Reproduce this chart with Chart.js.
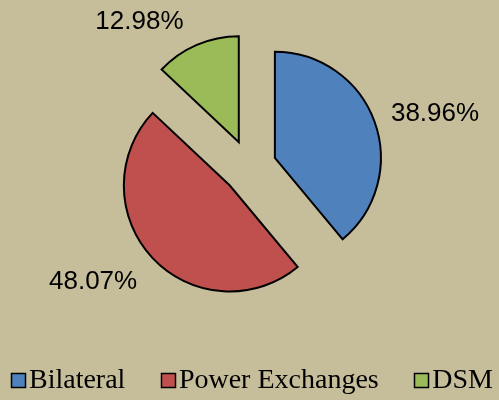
<!DOCTYPE html>
<html>
<head>
<meta charset="utf-8">
<script src="https://cdn.jsdelivr.net/npm/chart.js@4/dist/chart.umd.min.js"></script>
<style>
  html, body { margin: 0; padding: 0; background: #C6BE9B; }
  #wrap { width: 499px; height: 400px; position: relative; }
</style>
</head>
<body>
<div id="wrap"><canvas id="pie"></canvas></div>
<script>
// data
const categories = ['Bilateral', 'Power Exchanges', 'DSM'];
const shares = [38.96, 48.07, 12.98];
const shareLabels = ['38.96%', '48.07%', '12.98%'];

// styles
const sliceColors = ['#4F81BD', '#C0504D', '#9BBB59'];
const explode = 27;                        // px each slice is pulled out
const labelAngleShift = [4.6, 8.2, -16.2]; // degrees, nudge off the mid angle
const labelDistance = [166, 167, 156];     // px from the slice apex

// pull every slice out along its mid angle without growing its radius
// (chart.js "offset" also enlarges narrow slices)
const explodeSlices = {
  id: 'explodeSlices',
  beforeDatasetDraw(chart, args) {
    args.meta.data.forEach(arc => {
      if (arc._exploded) return;
      const draw = arc.draw.bind(arc);
      arc.draw = function (ctx) {
        const mid = (this.startAngle + this.endAngle) / 2;
        ctx.save();
        ctx.translate(Math.cos(mid) * explode, Math.sin(mid) * explode);
        draw(ctx);
        ctx.restore();
      };
      arc._exploded = true;
    });
  }
};

// percent labels outside each slice
const sliceLabels = {
  id: 'sliceLabels',
  afterDatasetsDraw(chart) {
    const ctx = chart.ctx;
    const meta = chart.getDatasetMeta(0);
    ctx.save();
    ctx.font = '26px "Liberation Sans", Arial, sans-serif';
    ctx.fillStyle = '#000';
    ctx.textAlign = 'center';
    ctx.textBaseline = 'middle';
    meta.data.forEach((arc, i) => {
      const p = arc.getProps(['x', 'y', 'startAngle', 'endAngle'], true);
      const mid = (p.startAngle + p.endAngle) / 2;
      const ax = p.x + Math.cos(mid) * explode;
      const ay = p.y + Math.sin(mid) * explode;
      const a = mid + labelAngleShift[i] * Math.PI / 180;
      ctx.fillText(shareLabels[i], ax + Math.cos(a) * labelDistance[i], ay + Math.sin(a) * labelDistance[i]);
    });
    ctx.restore();
  }
};

// legend row at the bottom, drawn on the canvas
const bottomLegend = {
  id: 'bottomLegend',
  afterDraw(chart) {
    const ctx = chart.ctx;
    const box = 14, gap = 4, itemGap = 35.5, cy = 380;
    ctx.save();
    ctx.font = '28px "Liberation Serif", "Times New Roman", serif';
    ctx.textBaseline = 'middle';
    const widths = categories.map(t => ctx.measureText(t).width);
    let total = 0;
    widths.forEach((w, i) => { total += box + gap + w + (i ? itemGap : 0); });
    let x = Math.round(252 - total / 2);
    categories.forEach((t, i) => {
      const bx = Math.round(x) + 0.5;
      ctx.fillStyle = sliceColors[i];
      ctx.fillRect(bx, cy - box / 2 + 0.5, box, box);
      ctx.lineWidth = 1.5;
      ctx.strokeStyle = '#000';
      ctx.strokeRect(bx, cy - box / 2 + 0.5, box, box);
      ctx.fillStyle = '#000';
      ctx.fillText(t, x + box + gap, cy + 1);
      x += box + gap + widths[i] + itemGap;
    });
    ctx.restore();
  }
};

new Chart(document.getElementById('pie'), {
  type: 'pie',
  data: {
    labels: categories,
    datasets: [{
      data: shares,
      backgroundColor: sliceColors,
      borderColor: '#000',
      borderWidth: 2,
      borderJoinStyle: 'miter',
      hoverOffset: 0
    }]
  },
  options: {
    responsive: true,
    maintainAspectRatio: false,
    animation: false,
    events: [],
    radius: 106,
    layout: { padding: { top: 0, bottom: 66, left: 0, right: 0 } },
    plugins: {
      legend: { display: false },
      tooltip: { enabled: false }
    }
  },
  plugins: [explodeSlices, sliceLabels, bottomLegend]
});
</script>
</body>
</html>
